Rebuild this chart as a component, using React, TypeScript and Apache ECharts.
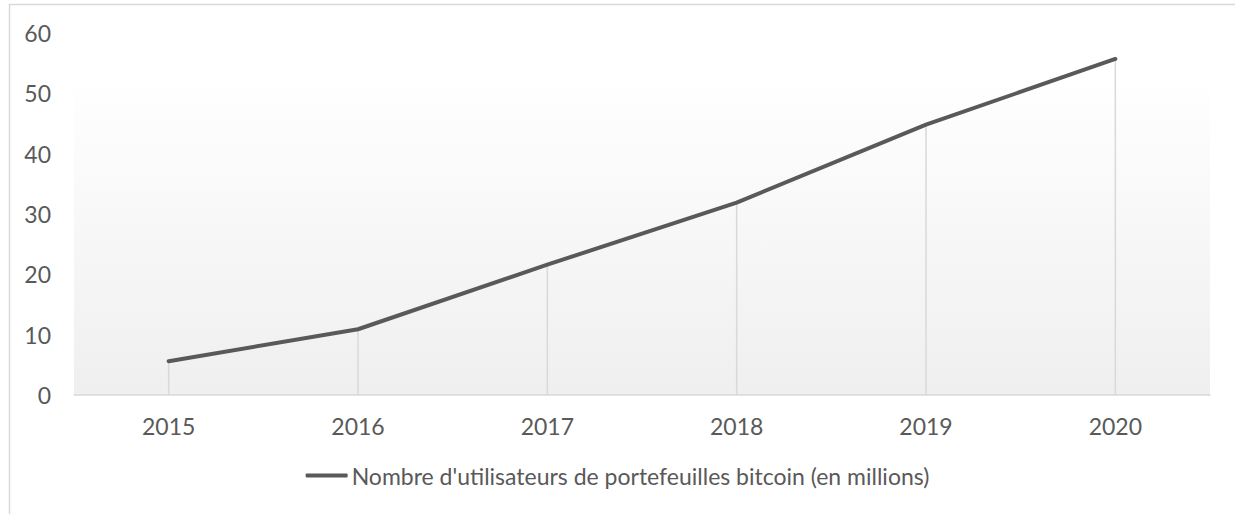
import React, { useEffect, useRef } from "react";
import * as echarts from "echarts";

const years = ["2015", "2016", "2017", "2018", "2019", "2020"];
const walletUsers = [5.6, 10.9, 21.6, 31.9, 44.8, 55.7];
const seriesName = "Nombre d'utilisateurs de portefeuilles bitcoin (en millions)";
const yTicks = { min: 0, max: 60, interval: 10 };

const FONT = "Lato, 'Open Sans', sans-serif";
const TEXT = "#595959";

export default function App() {
  const ref = useRef<HTMLDivElement>(null);
  useEffect(() => {
    if (!ref.current) return;
    const chart = echarts.init(ref.current, undefined, { renderer: "svg" });
    chart.setOption({
      animation: false,
      backgroundColor: "#ffffff",
      textStyle: { fontFamily: FONT, color: TEXT },
      graphic: [
        {
          type: "rect",
          shape: { x: 9.5, y: 4.5, width: 1400, height: 700 },
          style: { fill: "none", stroke: "#d9d9d9", lineWidth: 1.5 },
          silent: true,
          z: -10,
        },
      ],
      grid: {
        left: 74,
        right: 25,
        top: 33,
        bottom: 119,
        show: true,
        borderWidth: 0,
        backgroundColor: new echarts.graphic.LinearGradient(0, 0, 0, 1, [
          { offset: 0, color: "#ffffff" },
          { offset: 0.12, color: "#ffffff" },
          { offset: 1, color: "#efefef" },
        ]),
      },
      legend: {
        data: [{ name: seriesName, icon: "roundRect" }],
        bottom: 22,
        left: "center",
        itemWidth: 42,
        itemHeight: 4,
        itemGap: 4,
        textStyle: { fontFamily: FONT, fontSize: 23, color: TEXT, padding: [0, 0, 0, -1] },
      },
      xAxis: {
        type: "category",
        data: years,
        boundaryGap: true,
        axisLine: { show: true, lineStyle: { color: "#d9d9d9", width: 1.5 } },
        axisTick: { show: false },
        splitLine: { show: false },
        axisLabel: { fontFamily: FONT, fontSize: 23, color: TEXT, margin: 19 },
      },
      yAxis: {
        type: "value",
        min: yTicks.min,
        max: yTicks.max,
        interval: yTicks.interval,
        axisLine: { show: false },
        axisTick: { show: false },
        splitLine: { show: false },
        axisLabel: { fontFamily: FONT, fontSize: 23, color: TEXT, margin: 23 },
      },
      series: [
        {
          name: "drop",
          type: "bar",
          data: walletUsers,
          barWidth: 1.5,
          itemStyle: { color: "#d9d9d9" },
          silent: true,
          z: 1,
        },
        {
          name: seriesName,
          type: "line",
          data: walletUsers,
          symbol: "none",
          lineStyle: { color: "#595959", width: 4, cap: "round", join: "round" },
          itemStyle: { color: "#595959" },
          z: 5,
        },
      ],
    });
    return () => chart.dispose();
  }, []);
  return (
    <div
      ref={ref}
      style={{ position: "fixed", left: 0, top: 0, width: 1235, height: 514 }}
    />
  );
}
